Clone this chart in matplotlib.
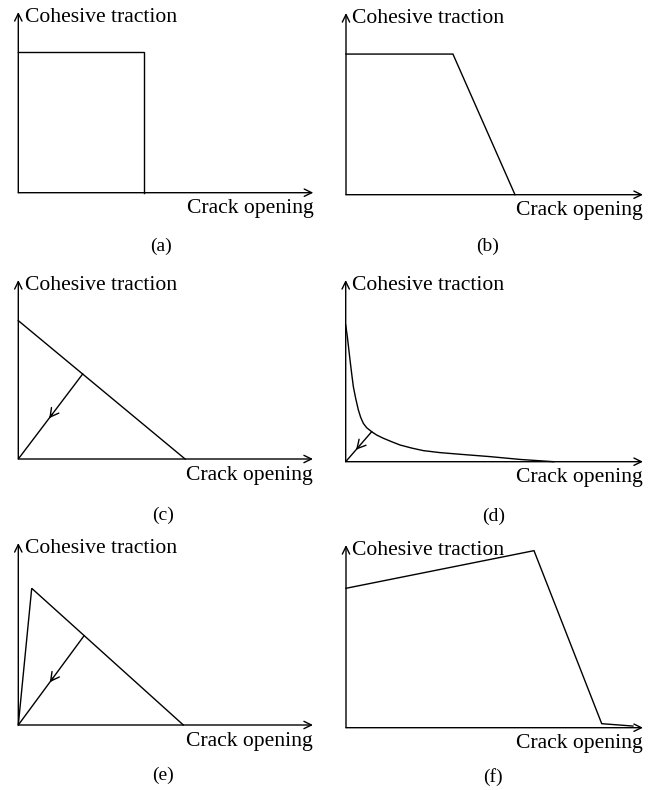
import numpy as np
import matplotlib.pyplot as plt

plt.rcParams['font.family'] = ['Liberation Serif', 'DejaVu Serif']

W, H = 651, 790

# --- traction-separation laws (opening and traction scaled so the axis tip = 1) ---
a_open = [0.0, 0.426, 0.426]
a_trac = [0.779, 0.779, 0.0]

b_open = [0.0, 0.360, 0.569]
b_trac = [0.774, 0.774, 0.0]

c_open = [0.0, 0.566]
c_trac = [0.773, 0.0]
c_unload = (0.2185, 0.475)

d_open = [0.0, 0.0055, 0.010, 0.0145, 0.020, 0.0257, 0.0335, 0.0425, 0.0504,
          0.0593, 0.0705, 0.0874, 0.104, 0.1266, 0.1546, 0.1826, 0.222, 0.261,
          0.317, 0.384, 0.485, 0.590, 0.700]
d_trac = [0.752, 0.688, 0.624, 0.560, 0.486, 0.413, 0.349, 0.285, 0.244,
          0.211, 0.187, 0.165, 0.147, 0.129, 0.110, 0.092, 0.075, 0.061,
          0.050, 0.041, 0.028, 0.012, 0.0]
d_unload = (0.0874, 0.165)

e_open = [0.0, 0.0455, 0.56]
e_trac = [0.0, 0.751, 0.0]
e_unload = (0.223, 0.490)

f_open = [0.0, 0.633, 0.861, 0.966]
f_trac = [0.763, 0.969, 0.022, 0.009]

panel_tags = ['(a)', '(b)', '(c)', '(d)', '(e)', '(f)']

# axis origin (px), axis length x / y (px), tag centre (px)
frames = [
    ((18.3, 192.7), 295.0, 180.7, (161, 246)),
    ((346.0, 194.7), 297.0, 181.7, (488, 246)),
    ((18.3, 459.0), 294.7, 179.0, (163, 515)),
    ((345.7, 461.7), 297.3, 181.7, (494, 516)),
    ((18.3, 725.0), 294.7, 182.0, (163, 775)),
    ((346.0, 727.7), 297.0, 182.7, (493, 777)),
]

curves = [
    (a_open, a_trac, None, 0.0),
    (b_open, b_trac, None, 0.0),
    (c_open, c_trac, c_unload, 0.52),
    (d_open, d_trac, d_unload, 0.60),
    (e_open, e_trac, e_unload, 0.52),
    (f_open, f_trac, None, 0.0),
]

fig = plt.figure(figsize=(W / 100, H / 100), dpi=100)
fig.patch.set_facecolor('white')

LW = 1.0
FS = 15.6
head = dict(arrowstyle='->,head_length=0.45,head_width=0.22', lw=LW,
            color='black', shrinkA=0, shrinkB=0, mutation_scale=12)

for (orig, wx, hy, tag_xy), (xs, ys, unload, frac), tag in zip(frames, curves, panel_tags):
    ox, oy = orig
    ax = fig.add_axes([ox / W, 1 - oy / H, wx / W, hy / H])
    ax.set_xlim(0, 1)
    ax.set_ylim(0, 1)
    ax.axis('off')

    # axes with open arrow heads
    ax.annotate('', xy=(1, 0), xytext=(0, 0), arrowprops=head, annotation_clip=False)
    ax.annotate('', xy=(0, 1), xytext=(0, 0), arrowprops=head, annotation_clip=False)

    ax.plot(xs, ys, color='black', lw=LW, clip_on=False, solid_joinstyle='miter')

    if unload is not None:
        ux, uy = unload
        ax.plot([ux, 0], [uy, 0], color='black', lw=LW)
        hx, hy_ = ux * (1 - frac), uy * (1 - frac)
        tx, ty = ux * (1 - frac + 0.05), uy * (1 - frac + 0.05)
        ax.annotate('', xy=(hx, hy_), xytext=(tx, ty),
                    arrowprops=dict(head, arrowstyle='->,head_length=0.55,head_width=0.3',
                                    mutation_scale=11))

    ax.annotate('Cohesive traction', xy=(0, 1), xycoords='axes fraction',
                xytext=(4.5, -7.3), textcoords='offset points',
                ha='left', va='baseline', fontsize=FS)
    ax.annotate('Crack opening', xy=(1, 0), xycoords='axes fraction',
                xytext=(0, -14.8), textcoords='offset points',
                ha='right', va='baseline', fontsize=FS)

    fig.text(tag_xy[0] / W, 1 - tag_xy[1] / H, tag, ha='center', va='center',
             fontsize=14)

fig.savefig('out.png', dpi=100, facecolor='white')
